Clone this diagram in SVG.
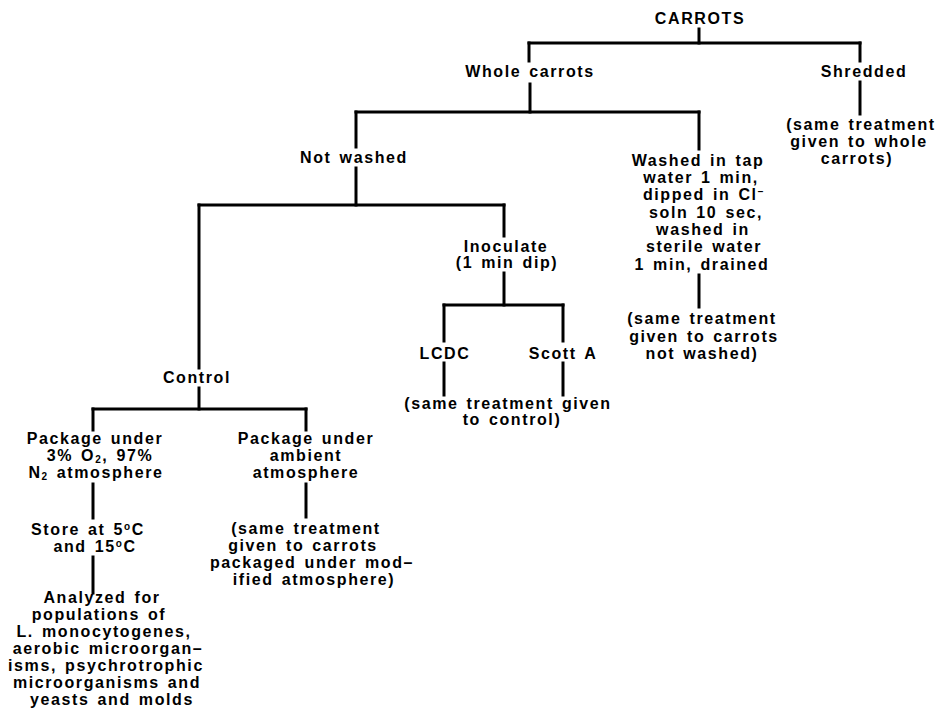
<svg xmlns="http://www.w3.org/2000/svg" width="939" height="708" viewBox="0 0 939 708">
<style>
text{font-family:"Liberation Sans",Arial,Helvetica,sans-serif;font-size:16px;font-weight:bold;fill:#000;text-anchor:middle;letter-spacing:1.6px;word-spacing:2px}
.sub{font-size:10px}
.sup{font-size:10px}
#connectors line{stroke:#000;stroke-width:3;stroke-linecap:square}
</style>
<rect width="939" height="708" fill="#fff"/>
<g id="connectors">
<line x1="699" y1="29" x2="699" y2="43"/>
<line x1="529" y1="43" x2="860" y2="43"/>
<line x1="529" y1="43" x2="529" y2="61"/>
<line x1="860" y1="43" x2="860" y2="61"/>
<line x1="530" y1="84" x2="530" y2="112"/>
<line x1="356" y1="112" x2="699" y2="112"/>
<line x1="356" y1="112" x2="356" y2="147"/>
<line x1="699" y1="112" x2="699" y2="149"/>
<line x1="860" y1="82" x2="860" y2="114"/>
<line x1="356" y1="168" x2="356" y2="205"/>
<line x1="199" y1="205" x2="504" y2="205"/>
<line x1="504" y1="205" x2="504" y2="236"/>
<line x1="199" y1="205" x2="199" y2="368"/>
<line x1="504" y1="273" x2="504" y2="305"/>
<line x1="444" y1="305" x2="563" y2="305"/>
<line x1="444" y1="305" x2="444" y2="341"/>
<line x1="563" y1="305" x2="563" y2="341"/>
<line x1="444" y1="363" x2="444" y2="395"/>
<line x1="563" y1="363" x2="563" y2="395"/>
<line x1="699" y1="275" x2="699" y2="307"/>
<line x1="199" y1="388" x2="199" y2="409"/>
<line x1="93" y1="409" x2="306" y2="409"/>
<line x1="93" y1="409" x2="93" y2="430"/>
<line x1="306" y1="409" x2="306" y2="430"/>
<line x1="93" y1="484" x2="93" y2="518"/>
<line x1="306" y1="484" x2="306" y2="517"/>
<line x1="93" y1="557" x2="93" y2="593"/>
</g>
<g id="carrots"><text x="700" y="24">CARROTS</text></g>
<g id="whole"><text x="530" y="77">Whole carrots</text></g>
<g id="shredded"><text x="864" y="77">Shredded</text></g>
<g id="shredded-same">
<text x="861" y="130">(same treatment</text>
<text x="859" y="147">given to whole</text>
<text x="857" y="164">carrots)</text>
</g>
<g id="not-washed"><text x="354" y="163">Not washed</text></g>
<g id="washed">
<text x="698" y="166">Washed in tap</text>
<text x="701" y="183">water 1 min,</text>
<text x="704" y="200">dipped in Cl<tspan class="sup" dy="-5">−</tspan></text>
<text x="706" y="218">soln 10 sec,</text>
<text x="703" y="235">washed in</text>
<text x="704" y="252">sterile water</text>
<text x="702" y="270">1 min, drained</text>
</g>
<g id="washed-same">
<text x="702" y="324">(same treatment</text>
<text x="704" y="342">given to carrots</text>
<text x="702" y="359">not washed)</text>
</g>
<g id="inoculate">
<text x="506" y="252">Inoculate</text>
<text x="507" y="268">(1 min dip)</text>
</g>
<g id="lcdc"><text x="445" y="359">LCDC</text></g>
<g id="scott"><text x="563" y="359">Scott A</text></g>
<g id="inoc-same">
<text x="508" y="409">(same treatment given</text>
<text x="512" y="425">to control)</text>
</g>
<g id="control"><text x="197" y="383">Control</text></g>
<g id="package-ma">
<text x="95" y="444">Package under</text>
<text x="100" y="461">3% O<tspan class="sub" dy="2">2</tspan><tspan dy="-2">, 97%</tspan></text>
<text x="96" y="478">N<tspan class="sub" dy="2">2</tspan><tspan dy="-2"> atmosphere</tspan></text>
</g>
<g id="package-ambient">
<text x="306" y="444">Package under</text>
<text x="306" y="461">ambient</text>
<text x="306" y="478">atmosphere</text>
</g>
<g id="store">
<text x="88" y="535">Store at 5<tspan class="sup" dy="-5">o</tspan><tspan dy="5">C</tspan></text>
<text x="95" y="552">and 15<tspan class="sup" dy="-5">o</tspan><tspan dy="5">C</tspan></text>
</g>
<g id="ambient-same">
<text x="306" y="534">(same treatment</text>
<text x="303" y="551">given to carrots</text>
<text x="312" y="568">packaged under mod–</text>
<text x="314" y="585">ified atmosphere)</text>
</g>
<g id="analyzed">
<text x="102" y="603">Analyzed for</text>
<text x="99" y="620">populations of</text>
<text x="104" y="637">L. monocytogenes,</text>
<text x="108" y="654">aerobic microorgan–</text>
<text x="106" y="671">isms, psychrotrophic</text>
<text x="107" y="688">microorganisms and</text>
<text x="112" y="705">yeasts and molds</text>
</g>
</svg>
